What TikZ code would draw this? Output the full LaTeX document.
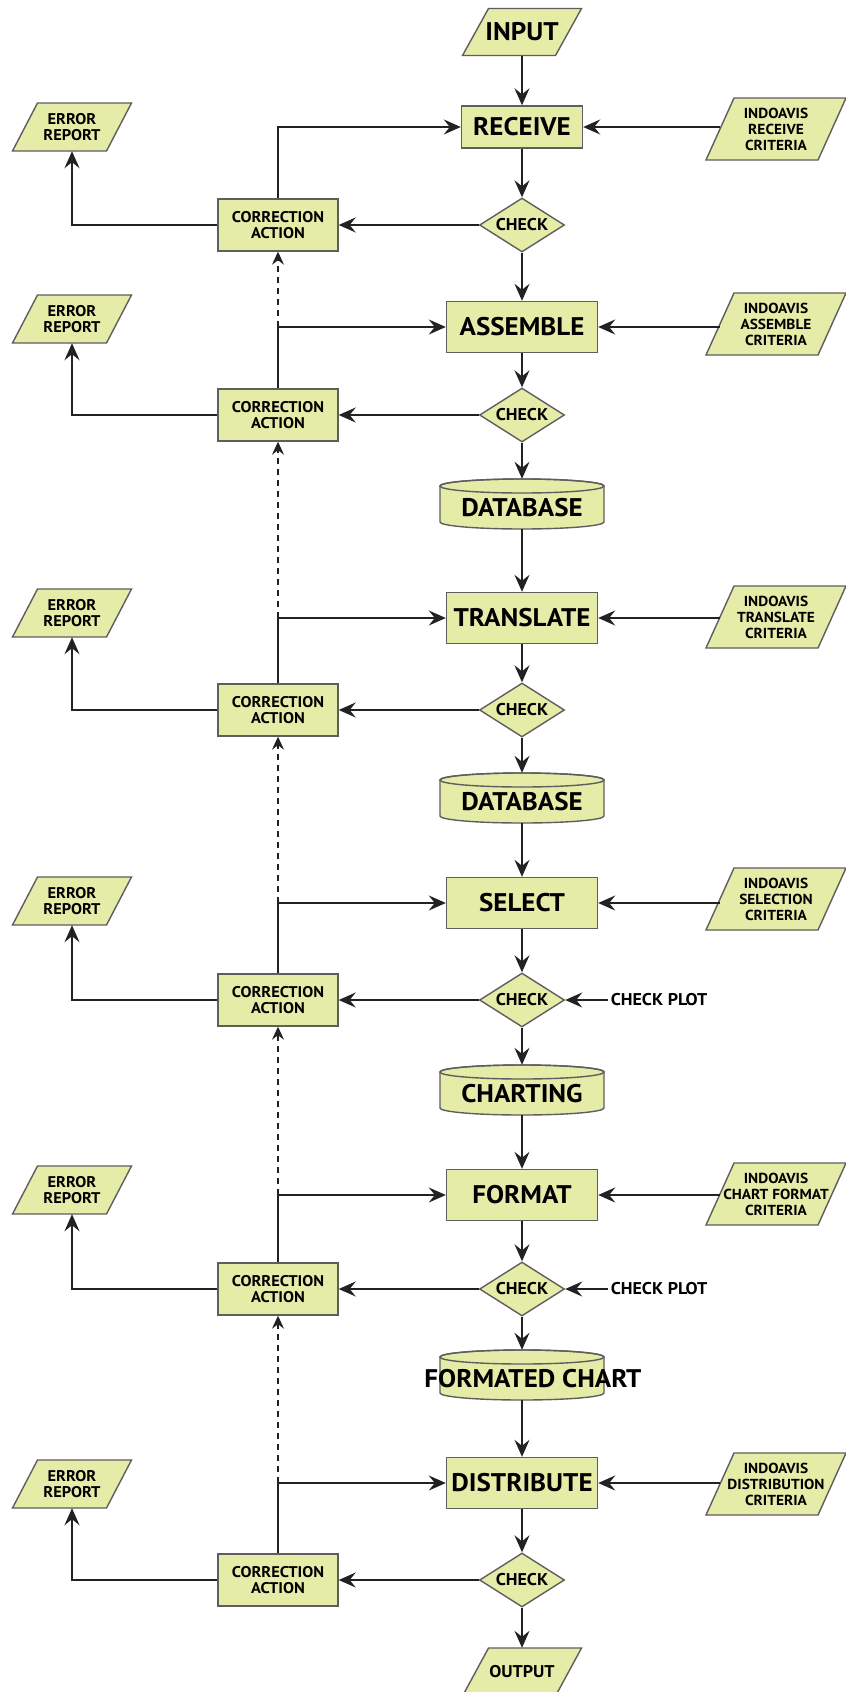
\documentclass[tikz,border=0pt]{standalone}
\usepackage{fontspec}
\setmainfont{PT Sans}[FakeStretch=1.06]
\usetikzlibrary{arrows.meta,shapes.geometric}
\definecolor{boxfill}{HTML}{E5ECA8}
\definecolor{boxline}{HTML}{5E5E5E}
\definecolor{wire}{HTML}{222222}
\tikzset{
  box/.style={draw=boxline, line width=1.4pt, fill=boxfill, inner sep=0pt, align=center},
  proc/.style={box, minimum width=151pt, minimum height=51pt, font=\bfseries\fontsize{25.5}{27}\selectfont},
  corr/.style={box, minimum width=120pt, minimum height=52pt, font=\bfseries\fontsize{15.5}{15.5}\selectfont},
  chk/.style={box, diamond, aspect=1.57, minimum width=85pt, minimum height=54pt, font=\bfseries\fontsize{17}{18}\selectfont},
  errfont/.style={font=\bfseries\fontsize{15.5}{16.5}\selectfont},
  critfont/.style={font=\bfseries\fontsize{14.5}{16}\selectfont},
  bigfont/.style={font=\bfseries\fontsize{25.5}{27}\selectfont},
  plotfont/.style={font=\bfseries\fontsize{17}{18}\selectfont},
  flow/.style={draw=wire, line width=1.8pt, -{Stealth[length=17pt,width=15pt,inset=6pt]}},
  backflow/.style={draw=wire, line width=1.1pt, dash pattern=on 6pt off 5pt, -{Stealth[length=13pt,width=12pt,inset=4.5pt]}},
}
% parallelogram: options, name, x, y, total width, height, slant, text
\newcommand\para[8]{%
  \filldraw[draw=boxline, fill=boxfill, line width=1.4pt]
    ({#3-#5/2},{#4-#6/2}) -- ({#3+#5/2-#7},{#4-#6/2}) -- ({#3+#5/2},{#4+#6/2}) -- ({#3-#5/2+#7},{#4+#6/2}) -- cycle;
  \node[#1, minimum width={#5-#7}, minimum height=#6, inner sep=0pt, align=center] (#2) at (#3,#4) {#8};
}
% cylinder: name, x, y, text, text x-offset
\newcommand\cyl[5]{%
  \filldraw[draw=boxline, fill=boxfill, line width=1.4pt]
    ({#2-82},{#3+18}) -- ({#2-82},{#3-18}) arc[start angle=180, end angle=360, x radius=82, y radius=7]
    -- ({#2+82},{#3+18}) arc[start angle=0, end angle=180, x radius=82, y radius=7] -- cycle;
  \draw[boxline, line width=1.4pt] (#2,{#3+18}) ellipse[x radius=82, y radius=7];
  \node[minimum width=164pt, minimum height=50pt, inner sep=0pt] (#1) at (#2,#3) {};
  \node[bigfont, inner sep=0pt] (#1t) at ({#2+#5},{#3-4}) {#4};
}
\begin{document}
\begin{tikzpicture}[x=1pt, y=1pt]
\useasboundingbox (0,0) rectangle (846,-1692);
\clip (0,0) rectangle (846,-1692);
\fill[white] (0,0) rectangle (846,-1692);

% main column
\para{bigfont}{in1}{522}{-32}{119}{47}{26}{INPUT}
\node[box, minimum width=121pt, minimum height=42pt, font=\bfseries\fontsize{25.5}{27}\selectfont] (rec) at (522,-127) {RECEIVE};
\node[chk] (chk1) at (522,-225) {CHECK};
\node[proc] (asm) at (522,-327) {ASSEMBLE};
\node[chk] (chk2) at (522,-415) {CHECK};
\cyl{db1}{522}{-504}{DATABASE}{0}
\node[proc] (trn) at (522,-618) {TRANSLATE};
\node[chk] (chk3) at (522,-710) {CHECK};
\cyl{db2}{522}{-798}{DATABASE}{0}
\node[proc] (sel) at (522,-903) {SELECT};
\node[chk] (chk4) at (522,-1000) {CHECK};
\cyl{chart}{522}{-1090}{CHARTING}{0}
\node[proc] (fmt) at (522,-1195) {FORMAT};
\node[chk] (chk5) at (522,-1289) {CHECK};
\cyl{fchart}{522}{-1375}{FORMATED CHART}{11}
\node[proc] (dst) at (522,-1483) {DISTRIBUTE};
\node[chk] (chk6) at (522,-1580) {CHECK};
\para{plotfont}{out}{522}{-1672}{119}{48}{26}{OUTPUT}

% criteria
\para{critfont}{crit1}{776}{-129}{140}{62}{28}{INDOAVIS\\RECEIVE\\CRITERIA}
\para{critfont}{crit2}{776}{-324}{140}{62}{28}{INDOAVIS\\ASSEMBLE\\CRITERIA}
\para{critfont}{crit3}{776}{-617}{140}{62}{28}{INDOAVIS\\TRANSLATE\\CRITERIA}
\para{critfont}{crit4}{776}{-899}{140}{62}{28}{INDOAVIS\\SELECTION\\CRITERIA}
\para{critfont}{crit5}{776}{-1194}{140}{62}{28}{INDOAVIS\\CHART FORMAT\\CRITERIA}
\para{critfont}{crit6}{776}{-1484}{140}{62}{28}{INDOAVIS\\DISTRIBUTION\\CRITERIA}

% corrections
\node[corr] (cor1) at (278,-225) {CORRECTION\\ACTION};
\node[corr] (cor2) at (278,-415) {CORRECTION\\ACTION};
\node[corr] (cor3) at (278,-710) {CORRECTION\\ACTION};
\node[corr] (cor4) at (278,-1000) {CORRECTION\\ACTION};
\node[corr] (cor5) at (278,-1289) {CORRECTION\\ACTION};
\node[corr] (cor6) at (278,-1580) {CORRECTION\\ACTION};

% error reports
\para{errfont}{err1}{72}{-127}{119}{48}{25}{ERROR\\REPORT}
\para{errfont}{err2}{72}{-319}{119}{48}{25}{ERROR\\REPORT}
\para{errfont}{err3}{72}{-613}{119}{48}{25}{ERROR\\REPORT}
\para{errfont}{err4}{72}{-901}{119}{48}{25}{ERROR\\REPORT}
\para{errfont}{err5}{72}{-1190}{119}{48}{25}{ERROR\\REPORT}
\para{errfont}{err6}{72}{-1484}{119}{48}{25}{ERROR\\REPORT}

% check plot labels
\node[plotfont, inner sep=0pt] (cp4) at (659,-1000) {CHECK PLOT};
\node[plotfont, inner sep=0pt] (cp5) at (659,-1289) {CHECK PLOT};

% main flow
\draw[flow] (in1) -- (rec);
\draw[flow] (rec) -- (chk1);
\draw[flow] (chk1) -- (asm);
\draw[flow] (asm) -- (chk2);
\draw[flow] (chk2) -- (db1);
\draw[flow] (db1) -- (trn);
\draw[flow] (trn) -- (chk3);
\draw[flow] (chk3) -- (db2);
\draw[flow] (db2) -- (sel);
\draw[flow] (sel) -- (chk4);
\draw[flow] (chk4) -- (chart);
\draw[flow] (chart) -- (fmt);
\draw[flow] (fmt) -- (chk5);
\draw[flow] (chk5) -- (fchart);
\draw[flow] (fchart) -- (dst);
\draw[flow] (dst) -- (chk6);
\draw[flow] (chk6) -- (out);

% criteria arrows
\draw[flow] (crit1.west |- rec.east) -- (rec.east);
\draw[flow] (crit2.west |- asm.east) -- (asm.east);
\draw[flow] (crit3.west |- trn.east) -- (trn.east);
\draw[flow] (crit4.west |- sel.east) -- (sel.east);
\draw[flow] (crit5.west |- fmt.east) -- (fmt.east);
\draw[flow] (crit6.west |- dst.east) -- (dst.east);

% check plot arrows
\draw[flow] ([xshift=-3pt]cp4.west) -- (chk4.east);
\draw[flow] ([xshift=-3pt]cp5.west) -- (chk5.east);

% check -> correction
\draw[flow] (chk1) -- (cor1);
\draw[flow] (chk2) -- (cor2);
\draw[flow] (chk3) -- (cor3);
\draw[flow] (chk4) -- (cor4);
\draw[flow] (chk5) -- (cor5);
\draw[flow] (chk6) -- (cor6);

% correction -> error report
\draw[flow] (cor1.west) -| (err1.south);
\draw[flow] (cor2.west) -| (err2.south);
\draw[flow] (cor3.west) -| (err3.south);
\draw[flow] (cor4.west) -| (err4.south);
\draw[flow] (cor5.west) -| (err5.south);
\draw[flow] (cor6.west) -| (err6.south);

% correction -> process (feedback)
\coordinate (j1) at (cor1.north |- rec.west);
\coordinate (j2) at (cor2.north |- asm.west);
\coordinate (j3) at (cor3.north |- trn.west);
\coordinate (j4) at (cor4.north |- sel.west);
\coordinate (j5) at (cor5.north |- fmt.west);
\coordinate (j6) at (cor6.north |- dst.west);
\draw[flow] (cor1.north) -- (j1) -- (rec.west);
\draw[flow] (cor2.north) -- (j2) -- (asm.west);
\draw[flow] (cor3.north) -- (j3) -- (trn.west);
\draw[flow] (cor4.north) -- (j4) -- (sel.west);
\draw[flow] (cor5.north) -- (j5) -- (fmt.west);
\draw[flow] (cor6.north) -- (j6) -- (dst.west);

% dashed escalation
\draw[backflow] (j2) -- (cor1.south);
\draw[backflow] (j3) -- (cor2.south);
\draw[backflow] (j4) -- (cor3.south);
\draw[backflow] (j5) -- (cor4.south);
\draw[backflow] (j6) -- (cor5.south);
\end{tikzpicture}
\end{document}
